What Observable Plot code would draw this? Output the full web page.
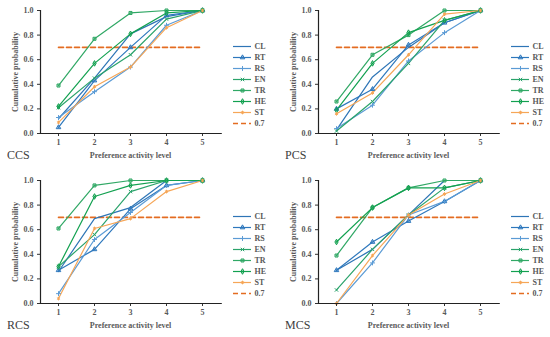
<!DOCTYPE html>
<html>
<head>
<meta charset="utf-8">
<script src="https://cdn.jsdelivr.net/npm/d3@7"></script>
<script src="https://cdn.jsdelivr.net/npm/@observablehq/plot@0.6"></script>
<style>
  html, body { margin: 0; padding: 0; background: #fff; }
  #chart { position: relative; width: 550px; height: 337px; overflow: hidden; }
  .panel { position: absolute; width: 275px; height: 168px; }
  .panel svg { position: absolute; left: 0; top: 0; }
  .panel .legend { position: absolute; left: 228px; top: 0; }
  .tag { position: absolute; left: 7px; top: 148px; font: 12px "Liberation Serif", "Times New Roman", serif; color: #404040; }
</style>
</head>
<body>
<div id="chart"></div>
<script>
// ---- data ----
const levels = [1, 2, 3, 4, 5];
const seriesNames = ["CL", "RT", "RS", "EN", "TR", "HE", "ST"];
const seriesColors = ["#2E75B6", "#2E78BD", "#5B9BD5", "#2AA36B", "#30A865", "#12A150", "#F6A657"];
const markerNames = ["RT", "RS", "EN", "TR", "HE", "ST"];
const markerSymbols = ["triangle", "plus", "times", "square", "diamond", "asterisk"];
const thresholdLabel = "0.7";
const threshold = 0.7;
const thresholdColor = "#E46C21";
const yTicks = [0, 0.2, 0.4, 0.6, 0.8, 1.0];
const panelNames = ["CCS", "PCS", "RCS", "MCS"];

// rows: CL, RT, RS, EN, TR, HE, ST ; columns: levels 1..5
const ccsValues = [
  [0.12, 0.45, 0.81, 0.95, 1.00],
  [0.05, 0.43, 0.70, 0.96, 1.00],
  [0.13, 0.34, 0.54, 0.88, 1.00],
  [0.21, 0.45, 0.64, 0.93, 1.00],
  [0.39, 0.77, 0.98, 1.00, 1.00],
  [0.22, 0.57, 0.81, 0.98, 1.00],
  [0.09, 0.38, 0.54, 0.86, 1.00]
];
const pcsValues = [
  [0.03, 0.46, 0.70, 0.90, 1.00],
  [0.20, 0.36, 0.72, 0.90, 1.00],
  [0.04, 0.23, 0.59, 0.82, 1.00],
  [0.02, 0.26, 0.57, 0.92, 1.00],
  [0.26, 0.64, 0.80, 1.00, 1.00],
  [0.19, 0.57, 0.82, 0.92, 1.00],
  [0.16, 0.33, 0.64, 0.97, 1.00]
];
const rcsValues = [
  [0.26, 0.69, 0.78, 1.00, 1.00],
  [0.27, 0.44, 0.77, 0.96, 1.00],
  [0.08, 0.52, 0.74, 0.96, 1.00],
  [0.30, 0.56, 0.91, 1.00, 1.00],
  [0.61, 0.96, 1.00, 1.00, 1.00],
  [0.30, 0.87, 0.96, 1.00, 1.00],
  [0.04, 0.61, 0.69, 0.91, 1.00]
];
const mcsValues = [
  [0.27, 0.44, 0.72, 1.00, 1.00],
  [0.27, 0.50, 0.67, 0.83, 1.00],
  [0.00, 0.33, 0.72, 0.83, 1.00],
  [0.11, 0.44, 0.72, 0.94, 1.00],
  [0.39, 0.78, 0.94, 1.00, 1.00],
  [0.50, 0.78, 0.94, 0.94, 1.00],
  [0.00, 0.39, 0.72, 0.89, 1.00]
];

// ---- drawing ----
const font = "'Liberation Serif', 'Times New Roman', serif";
const textColor = "#595959";
const colorScale = {domain: [...seriesNames, thresholdLabel], range: [...seriesColors, thresholdColor]};
const symbolScale = {domain: markerNames, range: markerSymbols};
const markerR = 1.7;

function makePanel(values, name, left, top) {
  const rows = [];
  values.forEach((vals, i) => vals.forEach((v, j) => rows.push({series: seriesNames[i], level: levels[j], value: v})));
  const thresholdRows = [levels[0], levels[levels.length - 1]].map(l => ({level: l, value: threshold}));

  const main = Plot.plot({
    width: 275, height: 168,
    marginLeft: 40, marginRight: 55, marginTop: 10, marginBottom: 35,
    x: {domain: [0.5, 5.5]},
    y: {domain: [0, 1]},
    color: colorScale,
    symbol: symbolScale,
    style: {fontFamily: font, fontSize: "8px", fontWeight: "bold", color: textColor, background: "transparent", overflow: "visible"},
    marks: [
      Plot.line(thresholdRows, {x: "level", y: "value", stroke: thresholdColor, strokeWidth: 1.6, strokeDasharray: "5,3"}),
      Plot.line(rows, {x: "level", y: "value", z: "series", stroke: "series", strokeWidth: 1.2}),
      Plot.dot(rows.filter(d => d.series !== "CL"), {x: "level", y: "value", symbol: "series", stroke: "series", fill: "series", fillOpacity: 0.45, strokeWidth: 1, r: markerR}),
      Plot.axisX({ticks: levels, tickFormat: d3.format("d"), tickSize: 3, tickPadding: 3, stroke: "#333",
        label: "Preference activity level", labelAnchor: "center", labelArrow: false, labelOffset: 24}),
      Plot.axisY({ticks: yTicks, tickFormat: d3.format(".1f"), tickSize: 3, tickPadding: 4, stroke: "#333",
        label: "Cumulative probability", labelAnchor: "center", labelArrow: false, labelOffset: 28}),
      Plot.ruleX([0.5], {stroke: "#222", strokeWidth: 1.2}),
      Plot.ruleY([0], {x1: 0.5, x2: 5.55, stroke: "#222", strokeWidth: 1.2})
    ]
  });

  const legendNames = [...seriesNames, thresholdLabel];
  const legend = Plot.plot({
    width: 47, height: 140, margin: 0,
    x: {type: "identity", axis: null},
    y: {type: "point", domain: legendNames, range: [38.5, 129.5], axis: null},
    color: colorScale,
    symbol: symbolScale,
    style: {fontFamily: font, fontSize: "8px", fontWeight: "bold", color: textColor, background: "transparent", overflow: "visible"},
    marks: [
      Plot.ruleY(seriesNames, {y: d => d, x1: 5, x2: 23, stroke: d => d, strokeWidth: 1.2}),
      Plot.ruleY([thresholdLabel], {y: d => d, x1: 5, x2: 23, stroke: d => d, strokeWidth: 1.6, strokeDasharray: "5,3"}),
      Plot.dot(markerNames, {x: 14, y: d => d, symbol: d => d, stroke: d => d, fill: d => d, fillOpacity: 0.45, strokeWidth: 1, r: markerR}),
      Plot.text(legendNames, {x: 26, y: d => d, text: d => d, textAnchor: "start", fill: textColor})
    ]
  });
  legend.classList.add("legend");

  const div = document.createElement("div");
  div.className = "panel";
  div.style.left = left + "px";
  div.style.top = top + "px";
  div.appendChild(main);
  div.appendChild(legend);
  const tag = document.createElement("div");
  tag.className = "tag";
  tag.textContent = name;
  div.appendChild(tag);
  document.getElementById("chart").appendChild(div);
}

makePanel(ccsValues, panelNames[0], 0, 0);
makePanel(pcsValues, panelNames[1], 278, 0);
makePanel(rcsValues, panelNames[2], 0, 170);
makePanel(mcsValues, panelNames[3], 278, 170);
</script>
</body>
</html>
